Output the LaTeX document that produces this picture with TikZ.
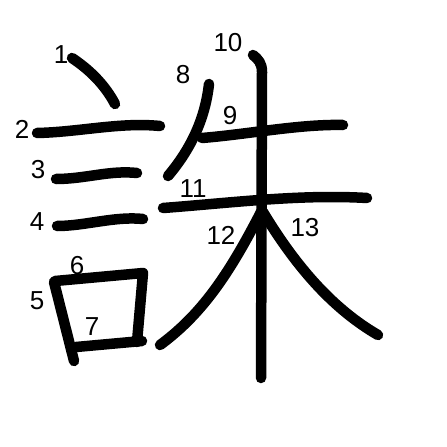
\documentclass[tikz,border=0pt]{standalone}
\usepackage{fontspec}
\newfontfamily\numfont{Liberation Sans}
\usepackage{tikz}
\tikzset{
  stroke/.style={line width=10.5pt, line cap=round, line join=round, black},
  snum/.style  ={font=\numfont\fontsize{26}{26}\selectfont, inner sep=0pt, text=black},
}

\begin{document}
\begin{tikzpicture}[x=1pt, y=-1pt]
  \useasboundingbox (0,0) rectangle (447,447);
  % radical (left part)
  \draw[stroke] (72,58) .. controls (90,70) and (105,85) .. (115,104);
  \draw[stroke] (37,133) .. controls (80,132) and (120,122) .. (160,126);
  \draw[stroke] (56,179) .. controls (85,179) and (110,170) .. (137,173);
  \draw[stroke] (57,226) .. controls (85,226) and (115,216) .. (143,219);
  \draw[stroke] (54,282) -- (74,361);
  \draw[stroke] (55,281) -- (143,273) -- (137,342);
  \draw[stroke] (76,347) -- (142,341);
  % right part
  \draw[stroke] (209,84) .. controls (205,120) and (190,150) .. (168,176);
  \draw[stroke] (202,138) .. controls (250,134) and (300,124) .. (343,125);
  \draw[stroke] (253,55) .. controls (258,59) and (262,63) .. (262,72) -- (261,378);
  \draw[stroke] (163,208) .. controls (230,203) and (300,194) .. (367,198);
  \draw[stroke] (261,212) .. controls (232,268) and (205,312) .. (160,345);
  \draw[stroke] (263,212) .. controls (298,270) and (335,310) .. (378,335);
  % stroke numbers
  \node[snum] (n1)  at (61,55)   {1};
  \node[snum] (n2)  at (22,129)  {2};
  \node[snum] (n3)  at (38,170)  {3};
  \node[snum] (n4)  at (37,222)  {4};
  \node[snum] (n5)  at (37,301)  {5};
  \node[snum] (n6)  at (77,266)  {6};
  \node[snum] (n7)  at (92,327)  {7};
  \node[snum] (n8)  at (183,75)  {8};
  \node[snum] (n9)  at (230,116) {9};
  \node[snum] (n10) at (228,43)  {10};
  \node[snum] (n11) at (193,189) {11};
  \node[snum] (n12) at (221,235) {12};
  \node[snum] (n13) at (305,228) {13};
\end{tikzpicture}
\end{document}
